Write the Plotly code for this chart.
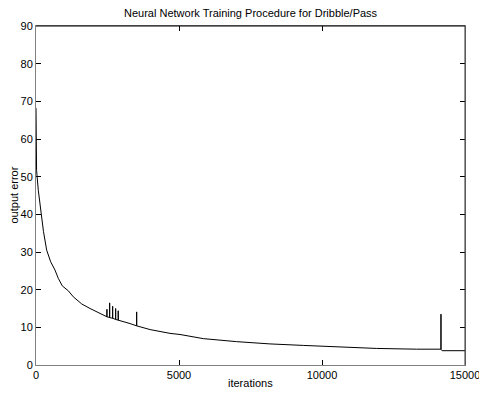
import plotly.graph_objects as go

# main training-error curve (iterations, output error)
curve_iters = [0, 20, 80, 190, 260, 373, 513, 664, 780, 920, 1130, 1305, 1600, 1890,
               2180, 2470, 2875, 3290, 3520, 3990, 4685, 5035, 5850, 7015, 8180,
               9345, 10280, 11900, 13300, 14160, 14200, 15000]
curve_error = [68.2, 51.7, 46.4, 40.0, 35.5, 30.5, 27.4, 25.2, 23.0, 21.0, 19.7, 18.1,
               16.2, 15.0, 14.0, 12.8, 11.9, 11.0, 10.4, 9.4, 8.4, 8.1, 7.0, 6.2, 5.6,
               5.2, 4.9, 4.4, 4.2, 4.2, 3.8, 3.8]

# transient spikes (iteration, base level, peak level)
spike_iters = [2480, 2575, 2680, 2785, 2875, 3520, 14160]
spike_base = [12.8, 12.6, 12.4, 12.1, 11.9, 10.4, 4.2]
spike_top = [14.8, 16.5, 15.6, 15.0, 14.4, 14.1, 13.5]

x_ticks = [0, 5000, 10000, 15000]
y_ticks = [0, 10, 20, 30, 40, 50, 60, 70, 80, 90]

title_text = "Neural Network Training Procedure for Dribble/Pass"
x_label = "iterations"
y_label = "output error"

# merge curve and spikes into a single polyline
pts = list(zip(curve_iters, curve_error))
for sx, sb, st in zip(spike_iters, spike_base, spike_top):
    pts.append((sx, sb))
    pts.append((sx + 0.001, st))
    pts.append((sx + 0.002, sb))
pts.sort(key=lambda p: p[0])
xs = [p[0] for p in pts]
ys = [p[1] for p in pts]

FONT = "Liberation Sans, Arial, Helvetica, sans-serif"

fig = go.Figure()
fig.add_trace(go.Scatter(x=xs, y=ys, mode="lines",
                         line=dict(color="black", width=1), hoverinfo="skip",
                         showlegend=False))

axis_common = dict(showgrid=False, zeroline=False, showline=True,
                   linecolor="#808080", linewidth=1, mirror="ticks",
                   ticks="inside", ticklen=5, tickcolor="black", tickwidth=1,
                   ticklabeloverflow="allow", automargin=False,
                   tickfont=dict(family=FONT, size=11, color="black"))

fig.update_xaxes(range=[0, 15000], tickvals=x_ticks,
                 ticktext=[str(v) for v in x_ticks], **axis_common)
fig.update_yaxes(range=[0, 90], tickvals=y_ticks,
                 ticktext=[str(v) for v in y_ticks], **axis_common)

fig.update_layout(
    width=479, height=394,
    margin=dict(l=36, r=14, t=26, b=29, autoexpand=False),
    paper_bgcolor="white", plot_bgcolor="white",
    font=dict(family=FONT, size=11, color="black"),
    shapes=[
        dict(type="line", xref="paper", yref="paper", x0=0, x1=1, y0=1, y1=1,
             line=dict(color="black", width=1), layer="above"),
        dict(type="line", xref="paper", yref="paper", x0=1, x1=1, y0=0, y1=1,
             line=dict(color="#333333", width=1), layer="above"),
    ],
    annotations=[
        dict(text=title_text, xref="paper", yref="paper", x=0.5, y=1.0383,
             xanchor="center", yanchor="middle", showarrow=False,
             font=dict(family=FONT, size=11, color="black")),
        dict(text=x_label, xref="paper", yref="paper", x=0.5, y=-0.053,
             xanchor="center", yanchor="middle", showarrow=False,
             font=dict(family=FONT, size=11, color="black")),
        dict(text=y_label, xref="paper", yref="paper", x=-0.0536, y=0.5,
             xanchor="center", yanchor="middle", showarrow=False, textangle=-90,
             font=dict(family=FONT, size=11, color="black")),
    ],
)

fig.write_html("out.html", config={"displayModeBar": False},
               post_script="document.body.style.margin='0';document.body.style.overflow='hidden';")
